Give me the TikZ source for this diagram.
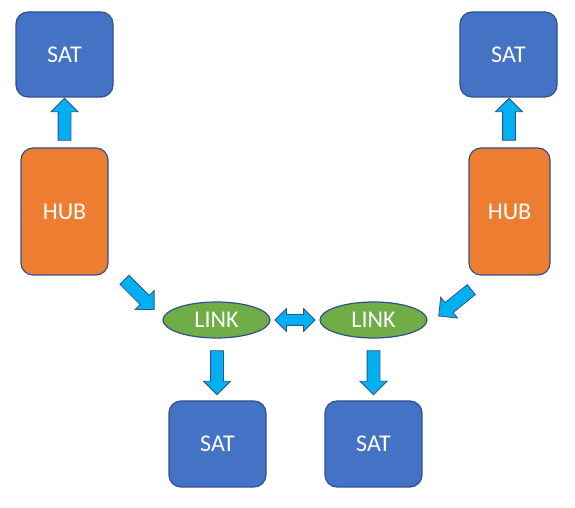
\documentclass[tikz,border=0pt]{standalone}
\usepackage{fontspec}
\setmainfont{Carlito}
\usetikzlibrary{positioning, calc, shapes.geometric, shapes.arrows}

\definecolor{satblue}{HTML}{4472C4}
\definecolor{huborange}{HTML}{ED7D31}
\definecolor{linkgreen}{HTML}{70AD47}
\definecolor{arrowcyan}{HTML}{00B0F0}
\definecolor{boxline}{HTML}{2F528F}

\begin{document}
\begin{tikzpicture}[
  x=1pt, y=1pt,
  box/.style={
    draw=boxline,
    line width=1.2pt,
    rounded corners=12pt,
    text=white,
    inner sep=0pt,
    font=\fontsize{24}{27}\selectfont
  },
  sat/.style={box, fill=satblue, minimum width=97pt, minimum height=85pt},
  hub/.style={box, fill=huborange, minimum width=87pt, minimum height=127pt},
  link/.style={
    ellipse,
    draw=boxline,
    line width=1.2pt,
    fill=linkgreen,
    text=white,
    inner sep=0pt,
    minimum width=107pt,
    minimum height=36pt,
    font=\fontsize{24}{27}\selectfont
  },
  blk/.style={
    single arrow,
    draw=boxline,
    line width=0.8pt,
    fill=arrowcyan,
    inner xsep=0pt,
    inner ysep=6pt,
    single arrow head extend=7pt,
    minimum height=42pt
  },
  dblk/.style={
    double arrow,
    draw=boxline,
    line width=0.8pt,
    fill=arrowcyan,
    inner xsep=0pt,
    inner ysep=5pt,
    double arrow head extend=6pt,
    minimum height=40pt
  }
]
\useasboundingbox (0,0) rectangle (575,508);

% hubs
\node[hub] (hub1) at (64.5,296.5) {HUB};
\node[hub, minimum width=81pt] (hub2) at (509.5,296.5) {HUB};

% satellites above the hubs
\node[sat, above=49.8pt of hub1] (sat1) {SAT};
\node[sat, above=49.8pt of hub2, xshift=-1pt] (sat2) {SAT};

% links
\node[link] (link1) at (216.5,188) {LINK};
\node[link] (link2) at (373.5,188) {LINK};

% satellites below the links
\node[sat, minimum height=86pt, below=61.8pt of link1, xshift=1pt] (sat3) {SAT};
\node[sat, minimum height=86pt, below=61.8pt of link2] (sat4) {SAT};

% arrows
\node[blk, rotate=90] (up1) at ($(hub1.north)!0.5!(sat1.south)$) {};
\node[blk, rotate=90] (up2) at ($(hub2.north)!0.5!(sat2.south)$) {};
\node[blk, rotate=-45] (in1) at ($($(hub1.south east)!0.5!(link1.west)$)+(1.5,5.5)$) {};
\node[blk, rotate=219] (in2) at ($($(hub2.south west)!0.5!(link2.east)$)+(9.5,-3)$) {};
\node[blk, rotate=-90, minimum height=44pt] (out1) at ($(link1.south)!0.5!(sat3.north)$) {};
\node[blk, rotate=-90, minimum height=44pt] (out2) at ($(link2.south)!0.5!(sat4.north)$) {};
\node[dblk] (both) at ($(link1.east)!0.5!(link2.west)$) {};

\end{tikzpicture}
\end{document}
